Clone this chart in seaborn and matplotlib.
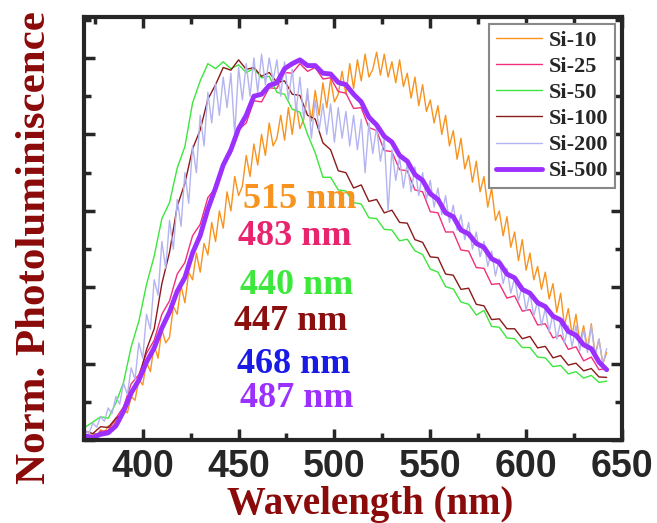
import numpy as np
import matplotlib
matplotlib.use("Agg")
import matplotlib.pyplot as plt
from matplotlib.ticker import MultipleLocator, NullFormatter
import seaborn as sns

# wavelength grids (nm): the noisy spectra are read every 2 nm, the rest every 4 nm
wavelength_fine = np.arange(370, 643, 2)
wavelength = np.arange(370, 643, 4)

si_10 = [0.015, 0.005, 0.018, 0.010, 0.028, 0.020, 0.038, 0.030, 0.055, 0.048,
         0.082, 0.072, 0.115, 0.105, 0.160, 0.145, 0.205, 0.180, 0.250, 0.215,
         0.290, 0.255, 0.270, 0.350, 0.330, 0.405, 0.360, 0.440, 0.420, 0.490,
         0.440, 0.515, 0.485, 0.570, 0.520, 0.600, 0.555, 0.650, 0.600, 0.690,
         0.640, 0.665, 0.745, 0.690, 0.775, 0.720, 0.800, 0.745, 0.830, 0.770,
         0.790, 0.850, 0.785, 0.870, 0.800, 0.880, 0.815, 0.840, 0.905, 0.835,
         0.915, 0.850, 0.935, 0.870, 0.945, 0.885, 0.905, 0.965, 0.905, 0.985,
         0.920, 0.995, 0.940, 1.010, 0.950, 0.970, 1.015, 0.955, 1.010, 0.950,
         0.990, 0.935, 0.995, 0.925, 0.960, 0.895, 0.950, 0.875, 0.930, 0.860,
         0.890, 0.830, 0.875, 0.800, 0.850, 0.770, 0.810, 0.735, 0.790, 0.710,
         0.745, 0.675, 0.730, 0.650, 0.690, 0.610, 0.660, 0.575, 0.600, 0.535,
         0.585, 0.505, 0.545, 0.470, 0.525, 0.445, 0.490, 0.420, 0.455, 0.395,
         0.440, 0.370, 0.410, 0.335, 0.385, 0.300, 0.345, 0.275, 0.330, 0.255,
         0.300, 0.240, 0.305, 0.225, 0.265, 0.200, 0.230]

si_25 = [0.015, 0.006, 0.024, 0.026, 0.058, 0.088, 0.148, 0.172, 0.228, 0.262,
         0.330, 0.365, 0.435, 0.465, 0.535, 0.565, 0.635, 0.660, 0.725, 0.750,
         0.812, 0.830, 0.888, 0.885, 0.922, 0.920, 0.962, 0.960, 0.985, 0.965,
         0.975, 0.945, 0.948, 0.912, 0.908, 0.868, 0.870, 0.818, 0.810, 0.758,
         0.755, 0.708, 0.705, 0.655, 0.650, 0.598, 0.595, 0.545, 0.545, 0.498,
         0.495, 0.452, 0.450, 0.408, 0.410, 0.372, 0.378, 0.338, 0.342, 0.302,
         0.305, 0.268, 0.275, 0.238, 0.245, 0.208, 0.218, 0.185, 0.188]

si_50 = [0.035, 0.048, 0.062, 0.058, 0.098, 0.152, 0.245, 0.312, 0.408, 0.482,
         0.580, 0.622, 0.712, 0.768, 0.882, 0.940, 0.985, 0.972, 0.990, 0.972,
         0.982, 0.962, 0.972, 0.948, 0.952, 0.910, 0.905, 0.866, 0.858, 0.800,
         0.752, 0.688, 0.688, 0.655, 0.652, 0.622, 0.618, 0.582, 0.580, 0.552,
         0.550, 0.522, 0.526, 0.496, 0.486, 0.448, 0.440, 0.402, 0.396, 0.362,
         0.356, 0.328, 0.340, 0.298, 0.296, 0.268, 0.266, 0.243, 0.243, 0.218,
         0.216, 0.193, 0.196, 0.174, 0.180, 0.163, 0.170, 0.152, 0.155]

si_100 = [0.024, 0.018, 0.036, 0.034, 0.058, 0.070, 0.128, 0.162, 0.238, 0.292,
          0.410, 0.492, 0.612, 0.672, 0.762, 0.812, 0.892, 0.930, 0.975, 0.968,
          0.995, 0.970, 0.975, 0.952, 0.962, 0.936, 0.940, 0.905, 0.902, 0.850,
          0.840, 0.778, 0.760, 0.705, 0.700, 0.660, 0.668, 0.625, 0.630, 0.595,
          0.602, 0.570, 0.568, 0.525, 0.518, 0.480, 0.478, 0.435, 0.432, 0.395,
          0.398, 0.356, 0.352, 0.316, 0.318, 0.292, 0.292, 0.266, 0.272, 0.242,
          0.246, 0.216, 0.222, 0.197, 0.202, 0.182, 0.188, 0.166, 0.165]

si_200 = [0.028, 0.018, 0.045, 0.035, 0.062, 0.050, 0.085, 0.070, 0.115, 0.095,
          0.150, 0.120, 0.190, 0.160, 0.255, 0.215, 0.330, 0.290, 0.420, 0.380,
          0.520, 0.450, 0.575, 0.500, 0.630, 0.560, 0.700, 0.620, 0.770, 0.700,
          0.850, 0.770, 0.910, 0.830, 0.935, 0.850, 0.950, 0.870, 0.960, 0.800,
          0.975, 0.890, 0.985, 0.900, 1.000, 0.910, 1.010, 0.930, 1.000, 0.940,
          0.995, 0.900, 0.990, 0.890, 0.970, 0.860, 0.950, 0.840, 0.920, 0.790,
          0.890, 0.810, 0.880, 0.800, 0.880, 0.780, 0.870, 0.790, 0.860, 0.770,
          0.850, 0.760, 0.840, 0.700, 0.830, 0.750, 0.820, 0.730, 0.790, 0.600,
          0.760, 0.680, 0.740, 0.660, 0.725, 0.650, 0.715, 0.640, 0.700, 0.630,
          0.680, 0.610, 0.660, 0.590, 0.640, 0.570, 0.615, 0.550, 0.590, 0.525,
          0.570, 0.500, 0.545, 0.480, 0.520, 0.455, 0.495, 0.430, 0.475, 0.410,
          0.450, 0.385, 0.425, 0.365, 0.405, 0.340, 0.385, 0.325, 0.365, 0.300,
          0.345, 0.285, 0.330, 0.265, 0.310, 0.255, 0.300, 0.245, 0.300, 0.235,
          0.290, 0.230, 0.300, 0.220, 0.265, 0.200, 0.240]

si_500 = [0.012, 0.008, 0.016, 0.020, 0.038, 0.076, 0.124, 0.158, 0.205, 0.242,
          0.294, 0.336, 0.390, 0.426, 0.490, 0.536, 0.605, 0.660, 0.720, 0.760,
          0.815, 0.850, 0.900, 0.905, 0.928, 0.935, 0.972, 0.985, 0.995, 0.980,
          0.980, 0.960, 0.958, 0.936, 0.930, 0.905, 0.885, 0.845, 0.825, 0.795,
          0.780, 0.745, 0.730, 0.695, 0.680, 0.645, 0.630, 0.595, 0.585, 0.550,
          0.540, 0.515, 0.505, 0.475, 0.465, 0.435, 0.425, 0.395, 0.385, 0.360,
          0.350, 0.325, 0.315, 0.285, 0.275, 0.250, 0.240, 0.205, 0.185]

names = ["Si-10", "Si-25", "Si-50", "Si-100", "Si-200", "Si-500"]
series = [si_10, si_25, si_50, si_100, si_200, si_500]
grids = [wavelength_fine, wavelength, wavelength, wavelength, wavelength_fine, wavelength]
colors = ["#F7931E", "#F0307A", "#3CE63C", "#8B1A1A", "#B4B4F0", "#9B30FF"]
widths = [1.0, 1.0, 1.0, 1.0, 1.0, 3.5]

peak_labels = ["515 nm", "483 nm", "440 nm", "447 nm", "468 nm", "487 nm"]
peak_colors = ["#F7931E", "#E8246E", "#3CE83C", "#8B0F0F", "#1A1AE6", "#9B30FF"]

sns.set_style("ticks")
plt.rcParams["font.family"] = ["Liberation Sans", "DejaVu Sans"]
plt.rcParams["font.weight"] = "bold"

fig, ax = plt.subplots(figsize=(6.57, 5.23), dpi=100)
fig.subplots_adjust(left=0.1279, right=0.9467, top=0.9675, bottom=0.1578)

for name, x, vals, c, lw in zip(names, grids, series, colors, widths):
    sns.lineplot(x=x, y=vals, color=c, lw=lw, label=name, ax=ax)

# peak position labels
label_x = [482.1, 479.2, 480.5, 477.1, 478.7, 480.2]
label_y = [0.608, 0.511, 0.383, 0.289, 0.176, 0.087]
for txt, c, x, y in zip(peak_labels, peak_colors, label_x, label_y):
    ax.text(x, y, txt, color=c, fontsize=26, fontweight="bold",
            family="Liberation Serif", ha="center", va="baseline")

ax.set_xlim(369.4, 650)
ax.set_ylim(0, 1.107)
ax.xaxis.set_major_locator(MultipleLocator(50))
ax.xaxis.set_minor_locator(MultipleLocator(25))
ax.yaxis.set_major_locator(MultipleLocator(0.2))
ax.yaxis.set_minor_locator(MultipleLocator(0.1))
ax.yaxis.set_major_formatter(NullFormatter())

ax.tick_params(which="both", direction="in", top=True, right=True, width=2.5)
ax.tick_params(which="major", length=8, labelsize=27, pad=6)
ax.tick_params(which="minor", length=5)
for lab in ax.get_xticklabels():
    lab.set_fontweight("bold")
for sp in ax.spines.values():
    sp.set_linewidth(3)

label_font = dict(family="Liberation Serif", fontweight="bold", color="#8B0A0A")
ax.set_xlabel("Wavelength (nm)", fontsize=28, **label_font)
ax.set_ylabel("Norm. Photoluminiscence", fontsize=31, **label_font)
ax.xaxis.set_label_coords(0.532, -0.107)
ax.yaxis.set_label_coords(-0.056, 0.4545)

leg = ax.legend(loc="upper right", fontsize=16, frameon=True, fancybox=False,
                edgecolor="#888888", framealpha=1, borderaxespad=0.3,
                handlelength=2.1, handletextpad=0.3, labelspacing=0.25,
                borderpad=0.3)
leg.get_frame().set_linewidth(1.5)
for t in leg.get_texts():
    t.set_family("Liberation Serif")
    t.set_fontweight("bold")

fig.savefig("out.png", dpi=100)
